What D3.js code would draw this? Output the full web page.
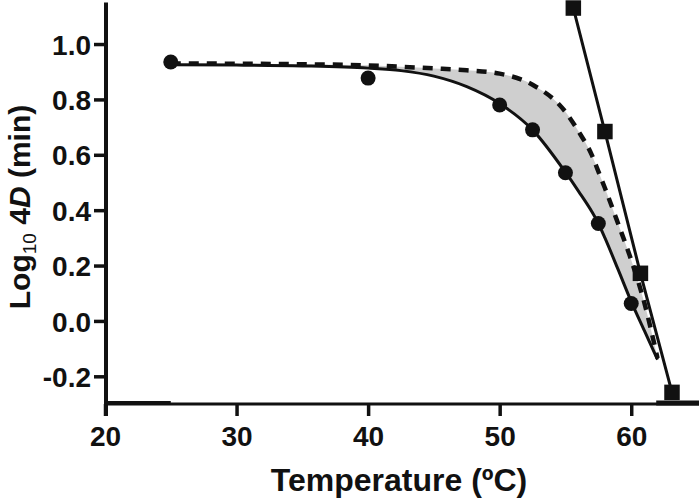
<!DOCTYPE html>
<html>
<head>
<meta charset="utf-8">
<script src="https://cdn.jsdelivr.net/npm/d3@7"></script>
<style>
  html, body { margin: 0; padding: 0; background: #fff; }
  svg { display: block; }
  text { font-family: "Liberation Sans", Arial, sans-serif; font-weight: bold; fill: #111; }
</style>
</head>
<body>
<svg id="chart" width="700" height="499"></svg>
<script>
// ---- data ----
const circleT = [25, 40, 50, 52.5, 55, 57.5, 60];
const circleLogD = [0.935, 0.877, 0.78, 0.69, 0.535, 0.352, 0.063];

const squareT = [55.6, 58.0, 60.7, 63.1];
const squareLogD = [1.13, 0.684, 0.172, -0.258];

const curveT =      [25, 30, 35, 40, 42.5, 45, 47.5, 50, 52.5, 55, 56, 57, 57.5, 58, 59, 60, 61, 62];
const solidFit =    [0.925, 0.924, 0.921, 0.913, 0.904, 0.884, 0.846, 0.785, 0.69, 0.537, 0.468, 0.395, 0.352, 0.30, 0.186, 0.07, -0.035, -0.14];
const dashedFit =   [0.930, 0.929, 0.927, 0.923, 0.918, 0.912, 0.905, 0.893, 0.853, 0.755, 0.684, 0.600, 0.540, 0.480, 0.352, 0.22, 0.065, -0.135];

const xTicks = [20, 30, 40, 50, 60];
const yTicks = [-0.2, 0.0, 0.2, 0.4, 0.6, 0.8, 1.0];

// ---- drawing ----
const svg = d3.select("#chart");
const x = d3.scaleLinear().domain([20, 65]).range([105, 697]);
const y = d3.scaleLinear().domain([-0.3, 1.15]).range([404, 2.5]);
const ink = "#111";
const fontFam = "'Liberation Sans', Arial, sans-serif";

const curvePts = curveT.map((t, i) => ({t, lo: solidFit[i], hi: dashedFit[i]}));

// shaded band between the two fits
svg.append("path")
  .datum(curvePts)
  .attr("fill", "#cfcfcf")
  .attr("d", d3.area().x(d => x(d.t)).y0(d => y(d.lo)).y1(d => y(d.hi)).curve(d3.curveMonotoneX));

// solid fit
svg.append("path")
  .datum(curvePts)
  .attr("fill", "none").attr("stroke", ink).attr("stroke-width", 3)
  .attr("d", d3.line().x(d => x(d.t)).y(d => y(d.lo)).curve(d3.curveMonotoneX));

// dashed fit
svg.append("path")
  .datum(curvePts)
  .attr("fill", "none").attr("stroke", ink).attr("stroke-width", 4.5)
  .attr("stroke-dasharray", "10,8")
  .attr("d", d3.line().x(d => x(d.t)).y(d => y(d.hi)).curve(d3.curveMonotoneX));

// square series line
const sqPts = squareT.map((t, i) => ({t, v: squareLogD[i]}));
svg.append("path")
  .datum(sqPts)
  .attr("fill", "none").attr("stroke", ink).attr("stroke-width", 3)
  .attr("d", d3.line().x(d => x(d.t)).y(d => y(d.v)));

// axes
const yAxis = d3.axisLeft(y).tickValues(yTicks).tickSize(12).tickFormat(d => d.toFixed(1));
const gy = svg.append("g").attr("transform", `translate(${x(20) + 1},0)`).call(yAxis);
gy.select(".domain").remove();
gy.selectAll(".tick line").attr("stroke", ink).attr("stroke-width", 3.5);
gy.selectAll(".tick text").attr("x", -15).attr("dy", "0.36em")
  .style("font-size", "28px").attr("fill", ink).style("font-family", fontFam).style("font-weight", "bold");

const xAxis = d3.axisBottom(x).tickValues(xTicks).tickSize(12).tickFormat(d3.format("d"));
const gx = svg.append("g").attr("transform", `translate(0,${y(-0.3)})`).call(xAxis);
gx.select(".domain").remove();
gx.selectAll(".tick line").attr("stroke", ink).attr("stroke-width", 3.5);
gx.selectAll(".tick text").attr("y", 22).attr("dy", "0.71em")
  .style("font-size", "28px").attr("fill", ink).style("font-family", fontFam).style("font-weight", "bold");

// axis lines
svg.append("line").attr("x1", x(20) + 1).attr("x2", x(20) + 1)
  .attr("y1", y(1.15)).attr("y2", y(-0.3) + 12)
  .attr("stroke", ink).attr("stroke-width", 4);
svg.append("line").attr("x1", x(20)).attr("x2", x(65) + 2)
  .attr("y1", y(-0.3)).attr("y2", y(-0.3))
  .attr("stroke", ink).attr("stroke-width", 3);
// heavier stretches along the baseline
svg.append("line").attr("x1", x(20)).attr("x2", x(25))
  .attr("y1", y(-0.3) - 1).attr("y2", y(-0.3) - 1)
  .attr("stroke", ink).attr("stroke-width", 4);
svg.append("line").attr("x1", x(61.9)).attr("x2", x(65) + 2)
  .attr("y1", y(-0.3) - 1).attr("y2", y(-0.3) - 1)
  .attr("stroke", ink).attr("stroke-width", 5);

// markers
svg.append("g").selectAll("circle")
  .data(circleT.map((t, i) => ({t, v: circleLogD[i]})))
  .join("circle")
  .attr("cx", d => x(d.t)).attr("cy", d => y(d.v)).attr("r", 7.5).attr("fill", ink);

const s = 15.5;
svg.append("g").selectAll("rect")
  .data(sqPts)
  .join("rect")
  .attr("x", d => x(d.t) - s / 2).attr("y", d => y(d.v) - s / 2)
  .attr("width", s).attr("height", s).attr("fill", ink);

// axis titles
svg.append("text")
  .attr("x", 399).attr("y", 491)
  .attr("text-anchor", "middle")
  .style("font-size", "32px")
  .text("Temperature (ºC)");

const yt = svg.append("text")
  .attr("transform", `translate(30,207) rotate(-90)`)
  .attr("text-anchor", "middle")
  .style("font-size", "30px");
yt.append("tspan").text("Log");
yt.append("tspan").text("10").style("font-size", "19px").style("font-weight", "normal").attr("dy", 6);
yt.append("tspan").text(" 4").attr("dy", -6);
yt.append("tspan").text("D").style("font-style", "italic");
yt.append("tspan").text(" (min)");
</script>
</body>
</html>
